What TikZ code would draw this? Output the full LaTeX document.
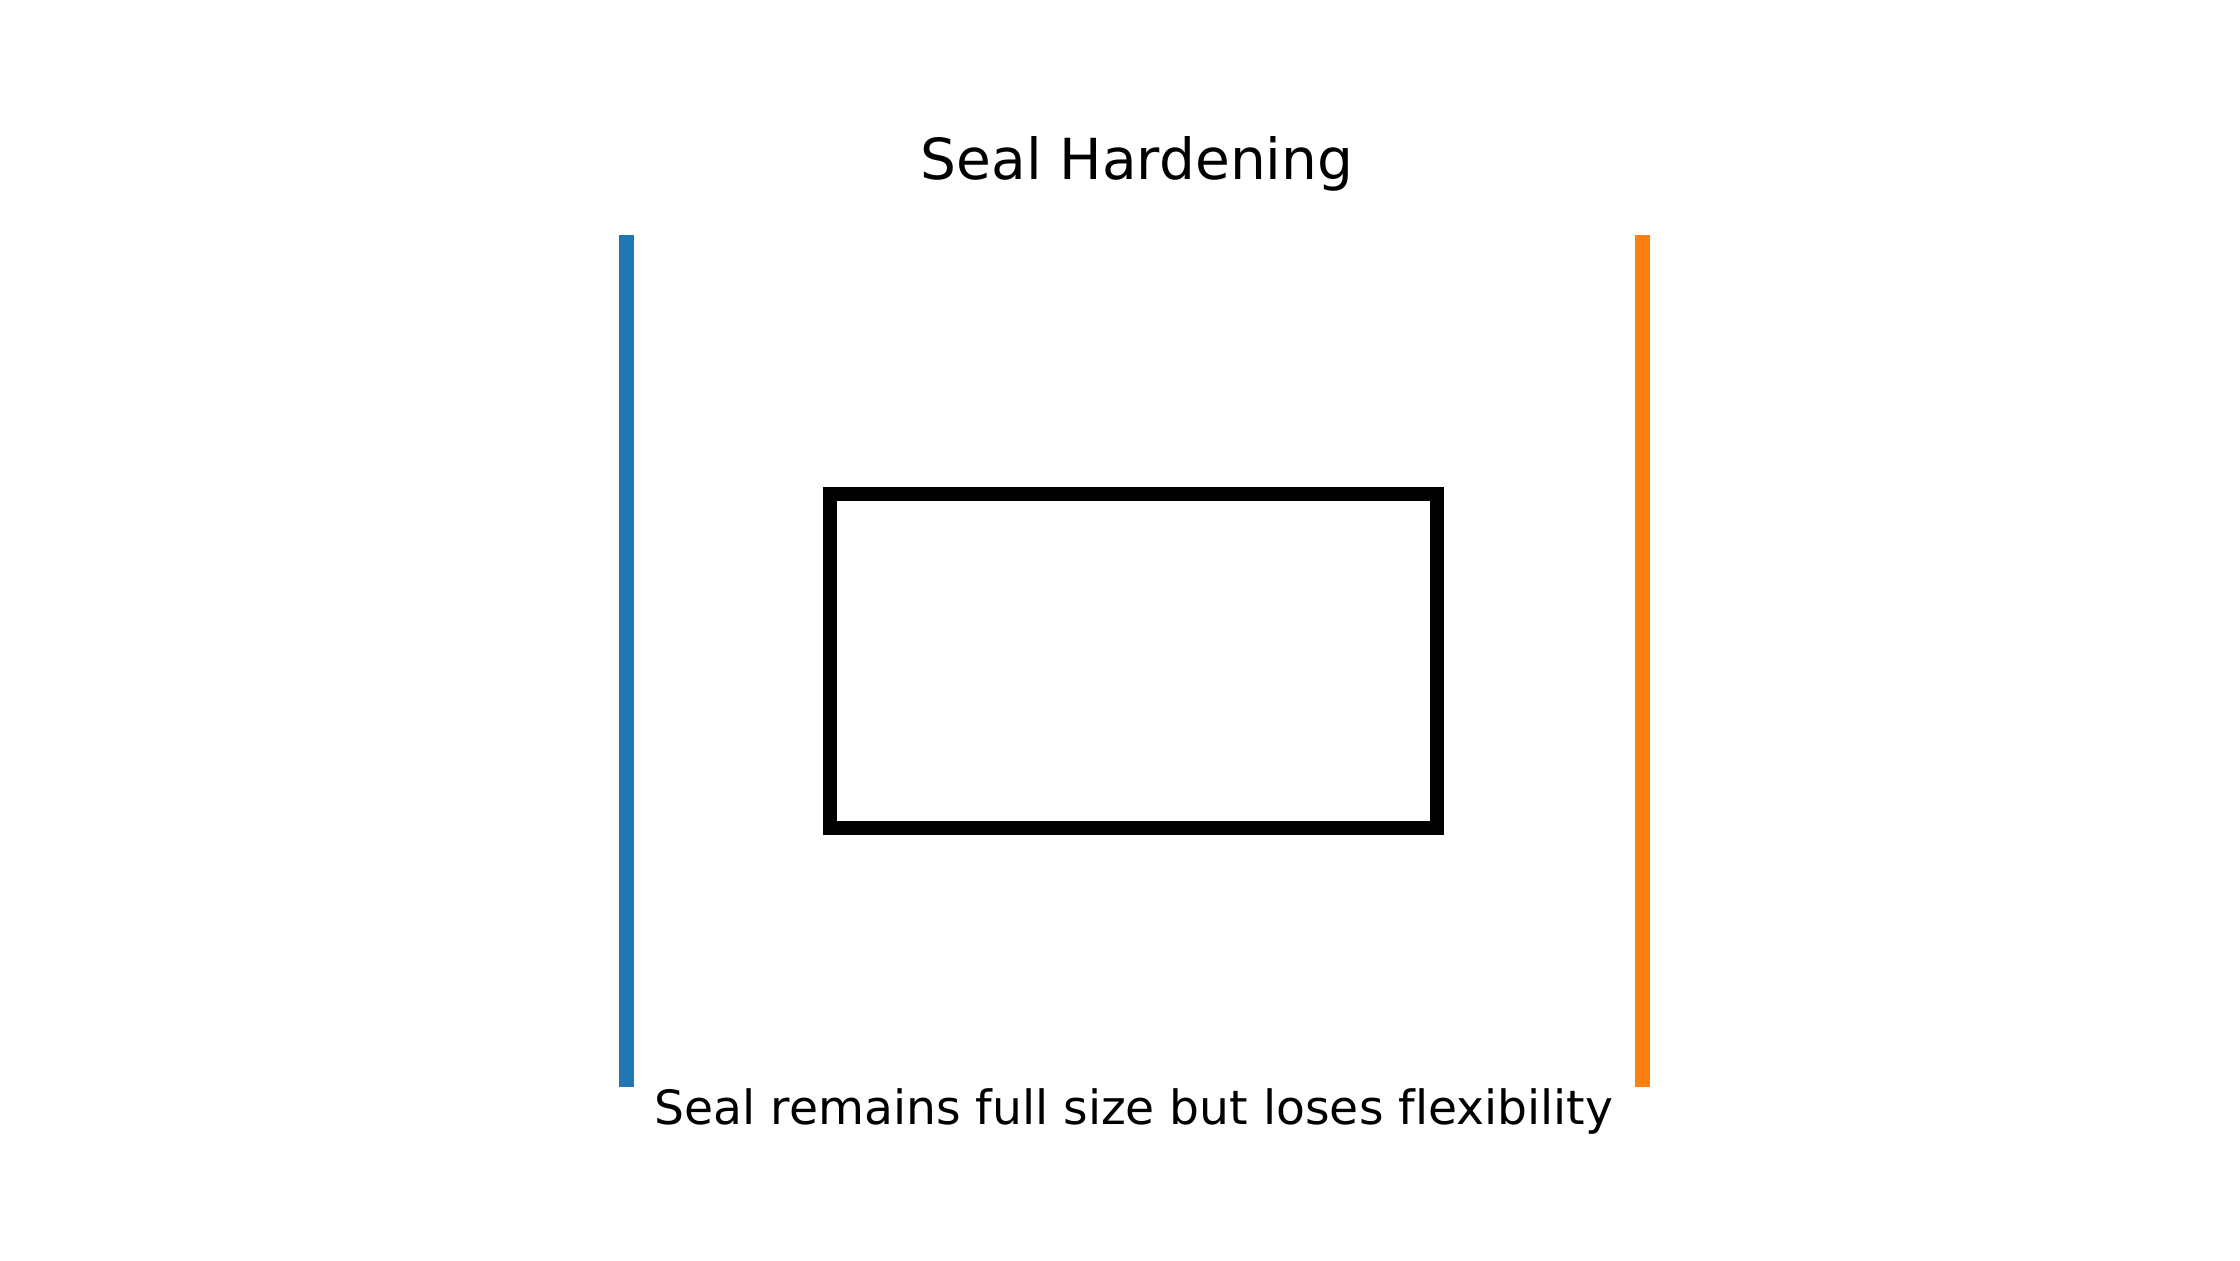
\documentclass[tikz,border=0pt]{standalone}
\usepackage{fontspec}
\setmainfont[Ligatures=NoCommon]{DejaVu Sans}
\definecolor{mplblue}{HTML}{1F77B4}
\definecolor{mplorange}{HTML}{FF7F0E}
\begin{document}
\begin{tikzpicture}[x=0.5pt,y=-0.5pt,
  wall/.style={line width=7.5pt},
  seal/.style={draw=black,line width=7pt,fill=none},
  label/.style={inner sep=0pt,anchor=base,text=black}]
\useasboundingbox[fill=white] (0,0) rectangle (2240,1260);
\draw[wall,mplblue] (626,235) -- (626,1087);
\draw[wall,mplorange] (1642,235) -- (1642,1087);
\draw[seal] (830,494) rectangle (1437,828);
\node[label,font=\fontsize{28.3}{34}\selectfont] (title) at (1137,179) {Seal Hardening};
\node[label,font=\fontsize{23.6}{28}\selectfont] (caption) at (1134,1124) {Seal remains full size but loses flexibility};
\end{tikzpicture}
\end{document}
